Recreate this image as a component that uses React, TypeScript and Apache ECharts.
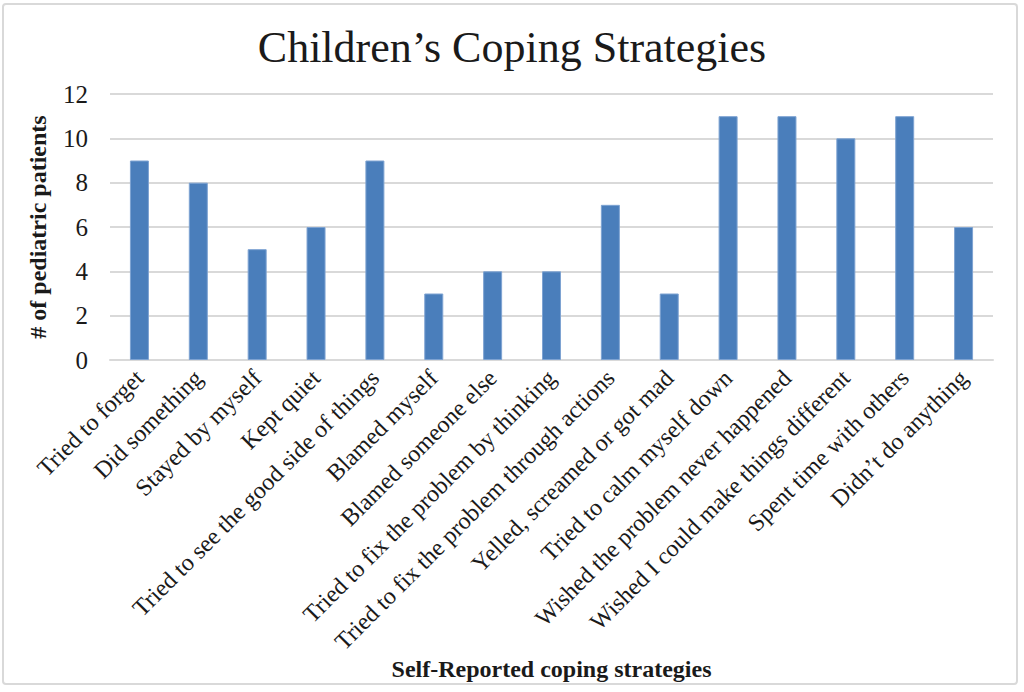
import React, { useEffect, useRef } from "react";
import * as echarts from "echarts";

const categories = [
  "Tried to forget",
  "Did something",
  "Stayed by myself",
  "Kept quiet",
  "Tried to see the good side of things",
  "Blamed myself",
  "Blamed someone else",
  "Tried to fix the problem by thinking",
  "Tried to fix the problem through actions",
  "Yelled, screamed or got mad",
  "Tried to calm myself down",
  "Wished the problem never happened",
  "Wished I could make things different",
  "Spent time with others",
  "Didn’t do anything",
];
const values = [9, 8, 5, 6, 9, 3, 4, 4, 7, 3, 11, 11, 10, 11, 6];

const FONT = "'Liberation Serif', 'Times New Roman', serif";

export default function App() {
  const ref = useRef<HTMLDivElement>(null);
  useEffect(() => {
    const chart = echarts.init(ref.current!, undefined, { renderer: "svg" });
    chart.setOption({
      animation: false,
      backgroundColor: "#ffffff",
      title: {
        text: "Children’s Coping Strategies",
        left: "center",
        top: 20,
        textStyle: { fontFamily: FONT, fontSize: 44, fontWeight: "normal", color: "#1a1a1a" },
      },
      graphic: [
        {
          type: "rect",
          shape: { x: 3, y: 4, width: 1014, height: 680, r: 3 },
          style: { fill: "none", stroke: "#d9d9d9", lineWidth: 2 },
          silent: true,
        },
      ],
      grid: { left: 110, right: 31, top: 94, bottom: 332 },
      xAxis: {
        type: "category",
        data: categories,
        name: "Self-Reported coping strategies",
        nameLocation: "middle",
        nameGap: 292,
        nameTextStyle: { fontFamily: FONT, fontSize: 24, fontWeight: "bold", color: "#1a1a1a" },
        axisLine: { lineStyle: { color: "#d9d9d9", width: 2 } },
        axisTick: { show: false },
        axisLabel: {
          rotate: 45,
          interval: 0,
          fontFamily: FONT,
          fontSize: 24,
          color: "#1a1a1a",
          margin: 14,
        },
      },
      yAxis: {
        type: "value",
        min: 0,
        max: 12,
        interval: 2,
        name: "# of pediatric patients",
        nameLocation: "middle",
        nameGap: 60,
        nameTextStyle: { fontFamily: FONT, fontSize: 24, fontWeight: "bold", color: "#1a1a1a" },
        axisLine: { show: false },
        axisTick: { show: false },
        axisLabel: { fontFamily: FONT, fontSize: 25, color: "#1a1a1a", margin: 22 },
        splitLine: { lineStyle: { color: "#d9d9d9", width: 2 } },
      },
      series: [
        {
          type: "bar",
          data: values,
          barWidth: 19,
          itemStyle: { color: "#4a7ebb", borderColor: "#7ea3d2", borderWidth: 1 },
        },
      ],
    });
    return () => chart.dispose();
  }, []);
  return <div ref={ref} style={{ position: "fixed", left: 0, top: 0, width: 1024, height: 692 }} />;
}
